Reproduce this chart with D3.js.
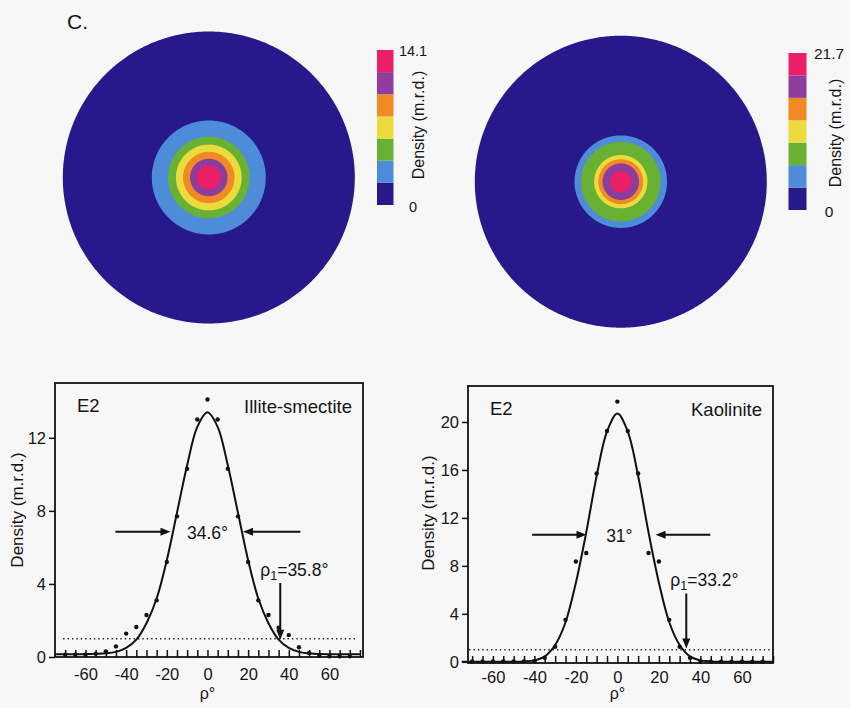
<!DOCTYPE html>
<html><head><meta charset="utf-8">
<script src="https://cdn.jsdelivr.net/npm/d3@7"></script>
<style>
body{margin:0;background:#f7f7f7}
svg{display:block}
text{font-family:"Liberation Sans",Arial,Helvetica,sans-serif;fill:#151515}
</style>
</head><body>
<svg id="c" width="850" height="708"></svg>
<script>
// ---------- data ----------
const pointRho = [-70,-65,-60,-55,-50,-45,-40,-35,-30,-25,-20,-15,-10,-5,0,5,10,15,20,25,30,35,40,45,50,55,60,65,70];
const illitePoints = [0.13,0.13,0.13,0.18,0.31,0.58,1.28,1.64,2.3,3.1,5.2,7.7,10.3,13.0,14.1,13.0,10.3,7.7,5.2,3.1,2.3,1.6,1.2,0.53,0.22,0.07,0.04,0.04,0.04];
const kaolinitePoints = [0.03,0.03,0.03,0.03,0.03,0.03,0.05,0.33,1.25,3.5,8.37,9.07,15.7,19.25,21.7,19.25,15.7,9.07,8.37,3.5,1.25,0.33,0.0,0.0,0.0,0.0,0.0,0.0,0.0];
const fitRho = [-75,-70,-65,-60,-55,-50,-45,-40,-35,-30,-25,-20,-15,-10,-5,0,5,10,15,20,25,30,35,40,45,50,55,60,65,70,75];
const illiteFit = [0.15,0.15,0.15,0.16,0.18,0.2,0.28,0.5,0.95,1.85,3.2,5.3,7.9,10.5,12.6,13.4,12.6,10.5,7.9,5.3,3.2,1.85,0.95,0.5,0.28,0.2,0.16,0.15,0.15,0.15,0.15];
const kaoliniteFit = [0,0,0,0,0,0,0.03,0.12,0.45,1.4,3.3,6.6,10.8,15.5,19.2,20.7,19.2,15.5,10.8,6.6,3.3,1.4,0.45,0.12,0.03,0,0,0,0,0,0];
const maxDensity = [14.1, 21.7];
const fwhmLabels = ["34.6°", "31°"];
const rho1Values = [35.8, 33.2];
const randomLevel = 1;
const yTicksIllite = [0,4,8,12];
const yTicksKaolinite = [0,4,8,12,16,20];
const xTickLabels = [-60,-40,-20,0,20,40,60];
const mineralNames = ["Illite-smectite", "Kaolinite"];
const bandColors = ["#27198b","#4e8bd9","#69b133","#ecdb3d","#f08a24","#8d3d9d","#ea1f66"];

// ---------- drawing ----------
const svg = d3.select("#c");

svg.append("text").attr("x", 67).attr("y", 29).attr("font-size", 21).text("C.");

// pole figures
function poleFigure(cfg) {
  const R = cfg.R;
  const proj = d3.geoAzimuthalEqualArea()
    .rotate([0, -90]).scale(R / Math.SQRT2).translate([cfg.cx, cfg.cy]);
  const path = d3.geoPath(proj);
  const rhosPos = pointRho.filter(r => r >= 0);
  const densPos = cfg.points.filter((d, i) => pointRho[i] >= 0);
  const nb = bandColors.length;
  const thr = d3.range(1, nb).map(k => k * cfg.max / nb);
  const radii = thr.map(t => {
    for (let i = 0; i < densPos.length - 1; i++) {
      if (densPos[i] >= t && densPos[i + 1] < t) {
        return d3.scaleLinear().domain([densPos[i], densPos[i + 1]]).range([rhosPos[i], rhosPos[i + 1]])(t);
      }
    }
    return 0;
  });
  const g = svg.append("g");
  g.append("path").datum(d3.geoCircle().center([0, 90]).radius(89.999).precision(0.5)())
    .attr("d", path).attr("fill", bandColors[0]);
  radii.forEach((rho, k) => {
    g.append("path").datum(d3.geoCircle().center([0, 90]).radius(rho).precision(0.5)())
      .attr("d", path).attr("fill", bandColors[k + 1]);
  });
  // colour bar
  const cb = cfg.bar;
  const cy = d3.scaleLinear().domain([0, cfg.max]).range([cb.y1, cb.y0]);
  const bands = d3.range(nb).map(k => [k * cfg.max / nb, (k + 1) * cfg.max / nb]);
  g.selectAll(".band").data(bands).enter().append("rect")
    .attr("x", cb.x0).attr("width", cb.x1 - cb.x0)
    .attr("y", d => cy(d[1])).attr("height", d => cy(d[0]) - cy(d[1]))
    .attr("fill", (d, i) => bandColors[i]);
  g.append("text").attr("x", cb.tx).attr("y", cy(cfg.max) + 6).attr("text-anchor", "middle")
    .attr("font-size", cfg.numSize).text(cfg.max);
  g.append("text").attr("x", cb.tx).attr("y", cy(0) + 7).attr("text-anchor", "middle")
    .attr("font-size", cfg.numSize).text("0");
  g.append("text").attr("transform", `translate(${cb.lx},${cb.ly}) rotate(-90)`)
    .attr("text-anchor", "middle").attr("font-size", 16).text("Density (m.r.d.)");
}

poleFigure({R: 146, cx: 208.8, cy: 177.5, points: illitePoints, max: maxDensity[0], numSize: 14.5,
  bar: {x0: 377, x1: 393.5, y0: 50, y1: 205, tx: 413, lx: 424, ly: 125}});
poleFigure({R: 146, cx: 620.8, cy: 181.7, points: kaolinitePoints, max: maxDensity[1], numSize: 15.5,
  bar: {x0: 788.5, x1: 806.5, y0: 53, y1: 210, tx: 829, lx: 841, ly: 133}});

function arrowHead(g, x, y, dir) {
  const L = 10, w = 4;
  let pts;
  if (dir === "right") pts = [[x, y], [x - L, y - w], [x - L, y + w]];
  else if (dir === "left") pts = [[x, y], [x + L, y - w], [x + L, y + w]];
  else pts = [[x, y], [x - w, y - L], [x + w, y - L]];
  g.append("path").attr("d", "M" + pts.map(p => p.join(",")).join("L") + "Z").attr("fill", "#111");
}

function panel(cfg) {
  const g = svg.append("g");
  const f = cfg.frame;
  const x = d3.scaleLinear().domain(cfg.xDomain).range([f.x0, f.x1]);
  const y = d3.scaleLinear().domain(cfg.yDomain).range([f.y1, f.y0]);

  const ya = g.append("g").attr("transform", `translate(${f.x0},0)`)
    .call(d3.axisLeft(y).tickValues(cfg.yTicks).tickSize(6).tickPadding(3).tickSizeOuter(0).tickFormat(d => String(d)));
  ya.select(".domain").remove();
  ya.selectAll("line").attr("stroke", "#111").attr("stroke-width", 1.5);
  ya.selectAll("text").attr("font-size", 16.5).attr("font-family", "Liberation Sans, Arial, sans-serif").attr("fill", "#151515");

  const xm = g.append("g").attr("transform", `translate(0,${f.y1})`)
    .call(d3.axisBottom(x).tickValues(d3.range(-70, 76, 5)).tickSize(-7).tickFormat("").tickSizeOuter(0));
  xm.select(".domain").remove();
  xm.selectAll("line").attr("stroke", "#111").attr("stroke-width", 1.5);
  const xa = g.append("g").attr("transform", `translate(0,${f.y1})`)
    .call(d3.axisBottom(x).tickValues(xTickLabels).tickSize(0).tickPadding(cfg.xPad).tickSizeOuter(0).tickFormat(d => String(d)));
  xa.select(".domain").remove();
  xa.selectAll("text").attr("font-size", 16.5).attr("font-family", "Liberation Sans, Arial, sans-serif").attr("fill", "#151515");

  g.append("line").attr("x1", x(cfg.dotFrom)).attr("x2", x(cfg.dotTo))
    .attr("y1", y(randomLevel)).attr("y2", y(randomLevel))
    .attr("stroke", "#222").attr("stroke-width", 1.4).attr("stroke-dasharray", "1.4,3");

  const line = d3.line().x(d => x(d[0])).y(d => y(d[1])).curve(d3.curveCatmullRom.alpha(0.5));
  g.append("path").datum(fitRho.map((r, i) => [r, cfg.fit[i]]))
    .attr("d", line).attr("fill", "none").attr("stroke", "#111").attr("stroke-width", 2);

  g.selectAll(".pt").data(pointRho.map((r, i) => [r, cfg.points[i]])).enter().append("circle")
    .attr("cx", d => x(d[0])).attr("cy", d => y(d[1])).attr("r", 2.2).attr("fill", "#111");

  const hy = y(cfg.half);
  g.append("line").attr("x1", x(cfg.arrL[0])).attr("x2", x(cfg.arrL[1]) - 8).attr("y1", hy).attr("y2", hy)
    .attr("stroke", "#111").attr("stroke-width", 2);
  arrowHead(g, x(cfg.arrL[1]), hy, "right");
  g.append("line").attr("x1", x(cfg.arrR[0])).attr("x2", x(cfg.arrR[1]) + 8).attr("y1", hy).attr("y2", hy)
    .attr("stroke", "#111").attr("stroke-width", 2);
  arrowHead(g, x(cfg.arrR[1]), hy, "left");
  g.append("text").attr("x", x(0) + cfg.fwhmDx).attr("y", hy + 7).attr("text-anchor", "middle")
    .attr("font-size", 17.5).text(cfg.fwhmLabel);

  const rx = x(cfg.rho1);
  g.append("line").attr("x1", rx).attr("x2", rx).attr("y1", y(cfg.rho1Top)).attr("y2", y(cfg.rho1Tip) - 8)
    .attr("stroke", "#111").attr("stroke-width", 2);
  arrowHead(g, rx, y(cfg.rho1Tip), "down");
  const t = g.append("text").attr("x", rx - cfg.rho1Dx).attr("y", y(cfg.rho1Top) - 7).attr("font-size", 17.5);
  t.append("tspan").text("ρ");
  t.append("tspan").attr("dy", 4).attr("font-size", 12.5).text("1");
  t.append("tspan").attr("dy", -4).text("=" + cfg.rho1 + "°");

  g.append("rect").attr("x", f.x0).attr("y", f.y0).attr("width", f.x1 - f.x0).attr("height", f.y1 - f.y0)
    .attr("fill", "none").attr("stroke", "#111").attr("stroke-width", 1.8);

  g.append("text").attr("x", f.x0 + 22).attr("y", f.y0 + 29).attr("font-size", 18.5).text("E2");
  g.append("text").attr("x", f.x1 - 11).attr("y", f.y0 + 30).attr("text-anchor", "end")
    .attr("font-size", 18.5).text(cfg.name);
  g.append("text").attr("transform", `translate(${cfg.yLab[0]},${cfg.yLab[1]}) rotate(-90)`)
    .attr("text-anchor", "middle").attr("font-size", 17).text("Density (m.r.d.)");
  g.append("text").attr("x", x(0)).attr("y", 699).attr("text-anchor", "middle")
    .attr("font-size", 16).text("ρ°");
}

panel({frame: {x0: 55, x1: 363, y0: 383, y1: 657}, xDomain: [-75, 76.5], yDomain: [0, 15.0],
  yTicks: yTicksIllite, points: illitePoints, fit: illiteFit, name: mineralNames[0],
  half: 6.85, arrL: [-45.3, -18.2], arrR: [45.7, 17.5], fwhmLabel: fwhmLabels[0], fwhmDx: 0,
  rho1: rho1Values[0], rho1Top: 4.05, rho1Tip: 0.95, rho1Dx: 20, xPad: 11,
  dotFrom: -71, dotTo: 74, yLab: [23, 510]});
panel({frame: {x0: 468, x1: 773, y0: 386, y1: 663}, xDomain: [-72, 75], yDomain: [-0.1, 23],
  yTicks: yTicksKaolinite, points: kaolinitePoints, fit: kaoliniteFit, name: mineralNames[1],
  half: 10.6, arrL: [-41.1, -14.9], arrR: [44.8, 18.4], fwhmLabel: fwhmLabels[1], fwhmDx: 2,
  rho1: rho1Values[1], rho1Top: 5.7, rho1Tip: 1.1, rho1Dx: 16, xPad: 8,
  dotFrom: -71.5, dotTo: 74.5, yLab: [434, 513]});
</script>
</body></html>
